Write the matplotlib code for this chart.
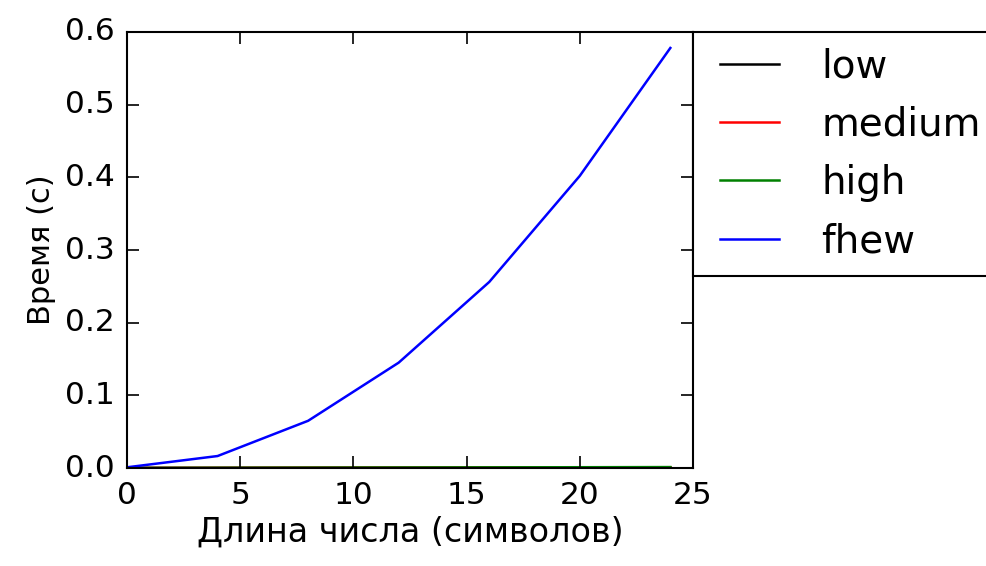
import numpy as np
import matplotlib
matplotlib.use('Agg')
import matplotlib.pyplot as plt

plt.style.use('classic')

# Длина числа (символов)
lengths = [0, 4, 8, 12, 16, 20, 24]

# Время (с)
low = [0.0001, 0.0002, 0.0003, 0.0004, 0.0005, 0.0006, 0.0007]
medium = [0.0001, 0.0002, 0.0004, 0.0005, 0.0006, 0.0008, 0.0009]
high = [0.0001, 0.0003, 0.0005, 0.0007, 0.0009, 0.0011, 0.0013]
fhew = [0.001, 0.0165, 0.065, 0.145, 0.256, 0.402, 0.578]

fig = plt.figure(figsize=(9.87, 5.66), dpi=100)
ax = fig.add_axes([0.1287, 0.1731, 0.5734, 0.7704])

ax.plot(lengths, low, color='k', lw=1.8, label='low')
ax.plot(lengths, medium, color='r', lw=1.8, label='medium')
ax.plot(lengths, high, color='g', lw=1.8, label='high')
ax.plot(lengths, fhew, color='b', lw=1.8, label='fhew')

ax.set_xlim(0, 25)
ax.set_ylim(0, 0.6)
ax.set_xlabel('Длина числа (символов)', fontsize=24, labelpad=4)
ax.set_ylabel('Время (с)', fontsize=22, labelpad=6)
ax.tick_params(labelsize=22.5, pad=9, width=1.2, length=8.6)
for s in ax.spines.values():
    s.set_linewidth(1.5)

leg = ax.legend(loc='upper left', bbox_to_anchor=(1, 1), fontsize=28,
                borderaxespad=0, borderpad=0.4, labelspacing=0.52,
                handlelength=2.1, handletextpad=0.8)
leg.get_frame().set_linewidth(1.5)

plt.savefig('out.png', dpi=100)
